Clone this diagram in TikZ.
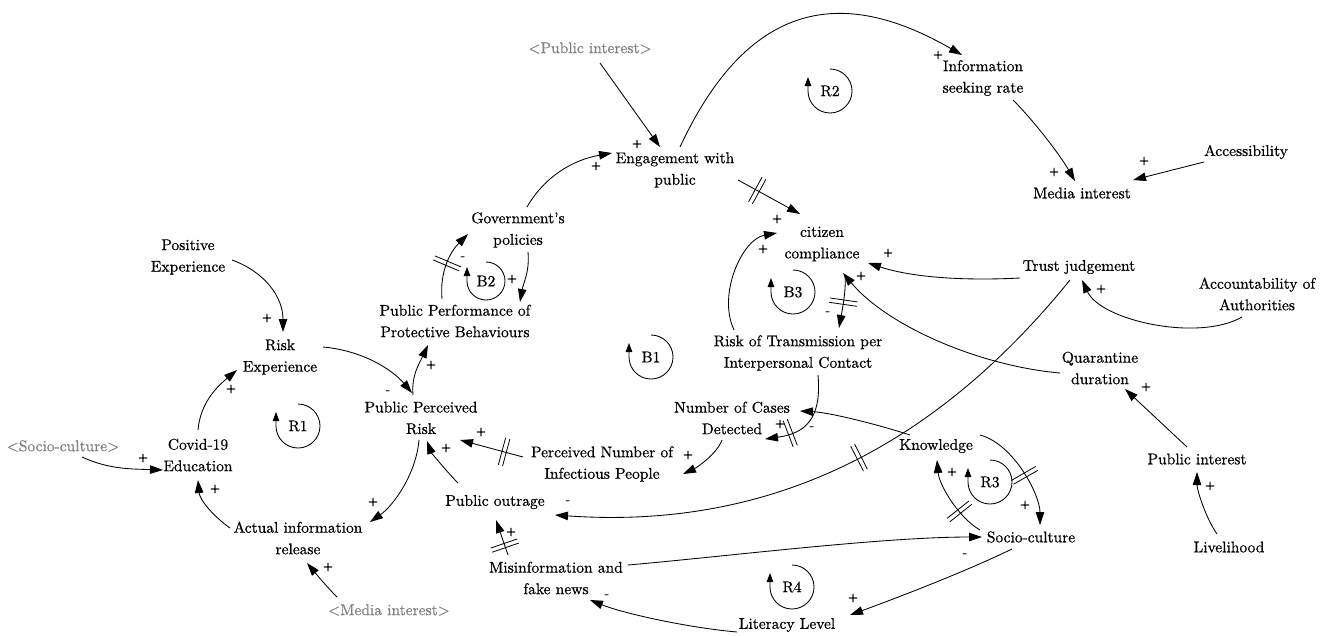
\documentclass[tikz,border=0pt]{standalone}
\usepackage{fontspec}
\setmainfont{lmroman10-regular.otf}[FakeBold=0.6]
\usetikzlibrary{arrows.meta,decorations.markings}
\definecolor{refgray}{RGB}{128,128,128}
\begin{document}
\begin{tikzpicture}[x=1pt,y=1pt,
  v/.style={align=center, inner sep=1pt, font=\fontsize{15.5}{21.5}\selectfont},
  vg/.style={v, text=refgray},
  pol/.style={inner sep=0pt, font=\fontsize{13}{13}\selectfont},
  lk/.style={line width=0.85pt, -{Triangle[length=13pt,width=8.5pt]}},
  dm/.style={postaction={decorate,decoration={markings,mark=at position #1 with {\draw[line width=0.8pt,-] (-2.2pt,-14pt)--(-2.2pt,14pt) (2.2pt,-14pt)--(2.2pt,14pt);}}}},
  lp/.style={line width=0.85pt, -{Triangle[length=9pt,width=6.5pt]}},
  lpl/.style={inner sep=0pt, font=\fontsize{15.5}{15.5}\selectfont}]
\useasboundingbox (0,0) rectangle (1331,-635);

% variables
\node[vg] (PubIntG) at (590,-48) {<Public interest>};
\node[v] (InfoSeek) at (983,-78) {Information\\seeking rate};
\node[v] (Engage) at (675,-170) {Engagement with\\public};
\node[v] (MediaInt) at (1082,-193) {Media interest};
\node[v] (Access) at (1246,-152) {Accessibility};
\node[v] (Govt) at (518,-230) {Government's\\policies};
\node[v] (Citizen) at (822,-244) {citizen\\compliance};
\node[v] (PosExp) at (188,-257) {Positive\\Experience};
\node[v] (Trust) at (1079,-267) {Trust judgement};
\node[v] (Account) at (1257,-294) {Accountability of\\Authorities};
\node[v] (PPPB) at (455,-321) {Public Performance of\\Protective Behaviours};
\node[v] (Risk) at (280,-357) {Risk\\Experience};
\node[v] (RiskTrans) at (798,-353) {Risk of Transmission per\\Interpersonal Contact};
\node[v] (Quarantine) at (1100,-368) {Quarantine\\duration};
\node[v] (PPR) at (421,-418) {Public Perceived\\Risk};
\node[v] (NumCases) at (732,-418) {Number of Cases\\Detected};
\node[v] (Knowledge) at (936,-446) {Knowledge};
\node[v] (Covid) at (198,-455) {Covid-19\\Education};
\node[vg] (SocioG) at (63,-446) {<Socio-culture>};
\node[v] (PerNum) at (602,-464) {Perceived Number of\\Infectious People};
\node[v] (PubInt) at (1197,-459) {Public interest};
\node[v] (Outrage) at (495,-502) {Public outrage};
\node[v] (ActInfo) at (298,-538) {Actual information\\release};
\node[v] (Socio) at (1031,-537) {Socio-culture};
\node[v] (Livelihood) at (1229,-547) {Livelihood};
\node[v] (Misinfo) at (556,-578) {Misinformation and\\fake news};
\node[vg] (MediaG) at (389,-610) {<Media interest>};
\node[v] (Literacy) at (787,-625) {Literacy Level};

% loop markers
\draw[lp] (298,-404) arc[start angle=90,end angle=-180,radius=22] -- ++(0,14);
\node[lpl] (R1) at (298,-426) {R1};
\draw[lp] (830,-69) arc[start angle=90,end angle=-180,radius=22] -- ++(0,14);
\node[lpl] (R2) at (830,-91) {R2};
\draw[lp] (486,-262) arc[start angle=90,end angle=-180,radius=19] -- ++(0,14);
\node[lpl] (B2) at (486,-281) {B2};
\draw[lp] (793,-270) arc[start angle=90,end angle=-180,radius=22] -- ++(0,14);
\node[lpl] (B3) at (793,-292) {B3};
\draw[lp] (651,-335) arc[start angle=90,end angle=-180,radius=22] -- ++(0,14);
\node[lpl] (B1) at (651,-357) {B1};
\draw[lp] (990,-460) arc[start angle=90,end angle=-180,radius=22] -- ++(0,14);
\node[lpl] (R3) at (990,-482) {R3};
\draw[lp] (792,-565) arc[start angle=90,end angle=-180,radius=22] -- ++(0,14);
\node[lpl] (R4) at (792,-587) {R4};

% links
\draw[lk] ([shift={(44,-3)}]PosExp.center) .. controls +(-20:35) and +(90:35) .. ([shift={(3,25)}]Risk.center);
\draw[lk] ([shift={(0,25)}]Covid.center) .. controls +(85:28) and +(220:25) .. ([shift={(-43,-13)}]Risk.center);
\draw[lk] ([shift={(19,-11)}]SocioG.center) .. controls +(-25:30) and +(178:30) .. ([shift={(-35,-15)}]Covid.center);
\draw[lk] ([shift={(-68,10)}]ActInfo.center) .. controls +(145:20) and +(-85:20) .. ([shift={(0,-25)}]Covid.center);
\draw[lk] ([shift={(-52,13)}]MediaG.center) .. controls +(135:15) and +(-50:15) .. ([shift={(9,-25)}]ActInfo.center);
\draw[lk] ([shift={(-2,-22)}]PPR.center) .. controls +(-95:35) and +(35:28) .. ([shift={(72,16)}]ActInfo.center);
\draw[lk] ([shift={(43,10)}]Risk.center) .. controls +(-5:40) and +(130:30) .. ([shift={(-9,25)}]PPR.center);
\draw[lk] ([shift={(-8,23)}]PPR.center) .. controls +(95:20) and +(-115:20) .. ([shift={(-27,-24)}]PPPB.center);
\draw[lk,dm=0.5] ([shift={(-13,22)}]PPPB.center) .. controls +(95:28) and +(-135:25) .. ([shift={(-50,-4)}]Govt.center);
\draw[lk] ([shift={(10,-22)}]Govt.center) .. controls +(-85:20) and +(80:20) .. ([shift={(65,19)}]PPPB.center);
\draw[lk] ([shift={(9,23)}]Govt.center) .. controls +(60:35) and +(190:40) .. ([shift={(-63,17)}]Engage.center);
\draw[lk] ([shift={(10,-15)}]PubIntG.center) -- ([shift={(-15,23)}]Engage.center);
\draw[lk] ([shift={(5,23)}]Engage.center) .. controls +(65:170) and +(150:130) .. ([shift={(-21,23)}]InfoSeek.center);
\draw[lk] ([shift={(30,-22)}]InfoSeek.center) .. controls +(-45:30) and +(120:30) .. ([shift={(-7,12)}]MediaInt.center);
\draw[lk] ([shift={(-42,-10)}]Access.center) -- ([shift={(51,13)}]MediaInt.center);
\draw[lk,dm=0.31] ([shift={(63,-10)}]Engage.center) -- ([shift={(-22,30)}]Citizen.center);
\draw[lk] ([shift={(-64,23)}]RiskTrans.center) .. controls +(115:40) and +(190:35) .. ([shift={(-45,11)}]Citizen.center);
\draw[lk,dm=0.5] ([shift={(23,-32)}]Citizen.center) .. controls +(-85:15) and +(80:15) .. ([shift={(41,25)}]RiskTrans.center);
\draw[lk] ([shift={(-59,-11)}]Trust.center) .. controls +(183:50) and +(-18:50) .. ([shift={(46,-19)}]Citizen.center);
\draw[lk] ([shift={(-40,-5)}]Quarantine.center) .. controls +(175:80) and +(-50:70) .. ([shift={(21,-29)}]Citizen.center);
\draw[lk] ([shift={(-15,-23)}]Account.center) .. controls +(-150:50) and +(-65:45) .. ([shift={(3,-13)}]Trust.center);
\draw[lk,dm=0.47] ([shift={(-9,-13)}]Trust.center) .. controls +(-129:210) and +(-4:220) .. ([shift={(60,-13)}]Outrage.center);
\draw[lk] ([shift={(-26,11)}]Knowledge.center) .. controls +(162:35) and +(-3:30) .. ([shift={(68,7)}]NumCases.center);
\draw[lk,dm=0.73] ([shift={(20,-22)}]RiskTrans.center) .. controls +(-85:45) and +(8:40) .. ([shift={(33,-21)}]NumCases.center);
\draw[lk] ([shift={(-10,-22)}]NumCases.center) .. controls +(-110:15) and +(25:15) .. ([shift={(81,-10)}]PerNum.center);
\draw[lk,dm=0.3] ([shift={(-79,7)}]PerNum.center) -- ([shift={(39,-22)}]PPR.center);
\draw[lk] ([shift={(-37,19)}]Outrage.center) .. controls +(135:15) and +(-70:12) .. ([shift={(6,-23)}]PPR.center);
\draw[lk,dm=0.27] ([shift={(-48,23)}]Misinfo.center) -- ([shift={(1,-18)}]Outrage.center);
\draw[lk] ([shift={(72,13)}]Misinfo.center) .. controls +(5:100) and +(180:100) .. ([shift={(-49,0)}]Socio.center);
\draw[lk] ([shift={(-19,-12)}]Socio.center) .. controls +(-154:50) and +(20:50) .. ([shift={(63,10)}]Literacy.center);
\draw[lk] ([shift={(-50,-7)}]Literacy.center) .. controls +(175:50) and +(-22:35) .. ([shift={(34,-22)}]Misinfo.center);
\draw[lk,dm=0.54] ([shift={(44,11)}]Knowledge.center) .. controls +(-15:35) and +(90:30) .. ([shift={(9,12)}]Socio.center);
\draw[lk,dm=0.33] ([shift={(-51,7)}]Socio.center) .. controls +(150:25) and +(-85:25) .. ([shift={(1,-14)}]Knowledge.center);
\draw[lk] ([shift={(-10,12)}]PubInt.center) -- ([shift={(25,-21)}]Quarantine.center);
\draw[lk] ([shift={(-12,13)}]Livelihood.center) .. controls +(125:20) and +(-90:18) .. ([shift={(0,-13)}]PubInt.center);

% polarities
\foreach \x/\y/\s [count=\i] in {267/318/+, 231/389/+, 143/458/+, 215/489/+, 328/567/+, 373/502/+, 388/392/-, 431/365/+, 463/258/-, 512/279/+, 596/166/+, 637/144/+, 938/55/+, 1054/172/+, 1144/161/+, 777/219/+, 763/249/+, 828/313/-, 888/253/+, 861/276/+, 1101/289/+, 568/502/-, 780/424/+, 812/428/-, 688/455/+, 481/432/+, 446/448/+, 511/532/+, 965/555/-, 853/598/+, 607/596/-, 1025/505/+, 952/472/+, 1146/387/+, 1210/486/+}
  \node[pol] (s\i) at (\x,-\y) {\s};
\end{tikzpicture}
\end{document}
